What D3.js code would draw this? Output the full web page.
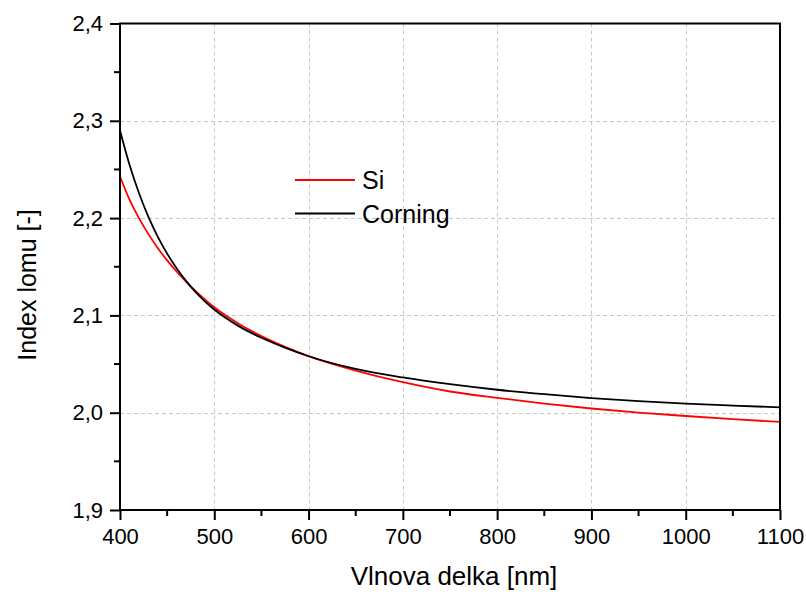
<!DOCTYPE html>
<html>
<head>
<meta charset="utf-8">
<script src="https://cdn.jsdelivr.net/npm/d3@7"></script>
<style>
  body { margin: 0; background: #fff; }
  svg text { font-family: "Liberation Sans", Arial, Helvetica, sans-serif; fill: #000; }
</style>
</head>
<body>
<div id="chart"></div>
<script>
// wavelengths [nm]
var wavelengths = [400, 410, 420, 430, 440, 450, 460, 470, 480, 490, 500, 525, 550, 575, 600,
                   650, 700, 750, 800, 850, 900, 950, 1000, 1050, 1100];
// refractive index, Si (red)
var siValues = [2.2428, 2.2193, 2.2003, 2.1838, 2.1693, 2.1565, 2.1451, 2.1348, 2.1253, 2.1165, 2.1083,
                2.0920, 2.0787, 2.0677, 2.0582, 2.0433, 2.0313, 2.0218, 2.0152, 2.0094, 2.0043,
                2.0001, 1.9966, 1.9934, 1.9905];
// refractive index, Corning (black)
var corningValues = [2.2900, 2.2550, 2.2260, 2.2015, 2.1810, 2.1635, 2.1485, 2.1355, 2.1242, 2.1145, 2.1060,
                     2.0895, 2.0770, 2.0668, 2.0580, 2.0450, 2.0362, 2.0293, 2.0236, 2.0190, 2.0150,
                     2.0118, 2.0093, 2.0073, 2.0055];
var seriesNames = ["Si", "Corning"];
var seriesColors = ["#ff0000", "#000000"];
var xTicks = [400, 500, 600, 700, 800, 900, 1000, 1100];
var yTicks = [1.9, 2.0, 2.1, 2.2, 2.3, 2.4];

var width = 806, height = 592;
var pLeft = 120, pRight = 780, pTop = 23.5, pBottom = 510;

var svg = d3.select("#chart").append("svg")
  .attr("width", width)
  .attr("height", height);

var x = d3.scaleLinear().domain([400, 1100]).range([pLeft, pRight]);
var y = d3.scaleLinear().domain([1.9, 2.4]).range([pBottom, pTop]);

var fmt = function(d) { return d3.format(".1f")(d).replace(".", ","); };

// grid
var grid = svg.append("g")
  .attr("stroke", "#c8c8c8")
  .attr("stroke-width", 1)
  .attr("stroke-dasharray", "4,3");
grid.selectAll("line.gx")
  .data(xTicks.slice(1, -1))
  .enter().append("line")
  .attr("x1", function(d) { return Math.round(x(d)) + 0.5; })
  .attr("x2", function(d) { return Math.round(x(d)) + 0.5; })
  .attr("y1", pTop)
  .attr("y2", pBottom);
grid.selectAll("line.gy")
  .data(yTicks.slice(1, -1))
  .enter().append("line")
  .attr("x1", pLeft)
  .attr("x2", pRight)
  .attr("y1", function(d) { return Math.round(y(d)) + 0.5; })
  .attr("y2", function(d) { return Math.round(y(d)) + 0.5; });

// curves
var line = d3.line()
  .x(function(d) { return x(d[0]); })
  .y(function(d) { return y(d[1]); })
  .curve(d3.curveMonotoneX);

[siValues, corningValues].forEach(function(vals, i) {
  svg.append("path")
    .datum(wavelengths.map(function(w, j) { return [w, vals[j]]; }))
    .attr("fill", "none")
    .attr("stroke", seriesColors[i])
    .attr("stroke-width", 1.8)
    .attr("d", line);
});

// axes
var xAxis = d3.axisBottom(x).tickValues(xTicks).tickSize(10).tickPadding(8).tickFormat(d3.format("d"));
var yAxis = d3.axisLeft(y).tickValues(yTicks).tickSize(10).tickPadding(7).tickFormat(fmt);

var gx = svg.append("g").attr("transform", "translate(0," + pBottom + ")").call(xAxis);
var gy = svg.append("g").attr("transform", "translate(" + pLeft + ",0)").call(yAxis);

[gx, gy].forEach(function(g) {
  g.select(".domain").remove();
  g.selectAll(".tick line").attr("stroke", "#000").attr("stroke-width", 2);
  g.selectAll(".tick text").style("font-size", "22px").style("font-family", "'Liberation Sans', Arial, sans-serif");
});

// minor ticks
var xMinor = d3.range(450, 1100, 100);
var yMinor = d3.range(1.95, 2.4, 0.1);
svg.append("g").selectAll("line")
  .data(xMinor).enter().append("line")
  .attr("x1", function(d) { return x(d); })
  .attr("x2", function(d) { return x(d); })
  .attr("y1", pBottom).attr("y2", pBottom + 6)
  .attr("stroke", "#000").attr("stroke-width", 2);
svg.append("g").selectAll("line")
  .data(yMinor).enter().append("line")
  .attr("x1", pLeft - 6).attr("x2", pLeft)
  .attr("y1", function(d) { return y(d); })
  .attr("y2", function(d) { return y(d); })
  .attr("stroke", "#000").attr("stroke-width", 2);

// frame
svg.append("rect")
  .attr("x", pLeft).attr("y", pTop)
  .attr("width", pRight - pLeft).attr("height", pBottom - pTop)
  .attr("fill", "none")
  .attr("stroke", "#000")
  .attr("stroke-width", 2);

// axis titles
svg.append("text")
  .attr("x", (pLeft + pRight) / 2 + 4)
  .attr("y", 585)
  .attr("text-anchor", "middle")
  .style("font-size", "26px")
  .text("Vlnova delka [nm]");

svg.append("text")
  .attr("transform", "translate(36," + 285 + ") rotate(-90)")
  .attr("text-anchor", "middle")
  .style("font-size", "25px")
  .text("Index lomu [-]");

// legend
var legend = svg.append("g");
seriesNames.forEach(function(name, i) {
  var ly = 180 + i * 33.5;
  legend.append("line")
    .attr("x1", 295).attr("x2", 355)
    .attr("y1", ly).attr("y2", ly)
    .attr("stroke", seriesColors[i])
    .attr("stroke-width", 1.8);
  legend.append("text")
    .attr("x", 362)
    .attr("y", ly + 9)
    .style("font-size", "25px")
    .text(name);
});
</script>
</body>
</html>
